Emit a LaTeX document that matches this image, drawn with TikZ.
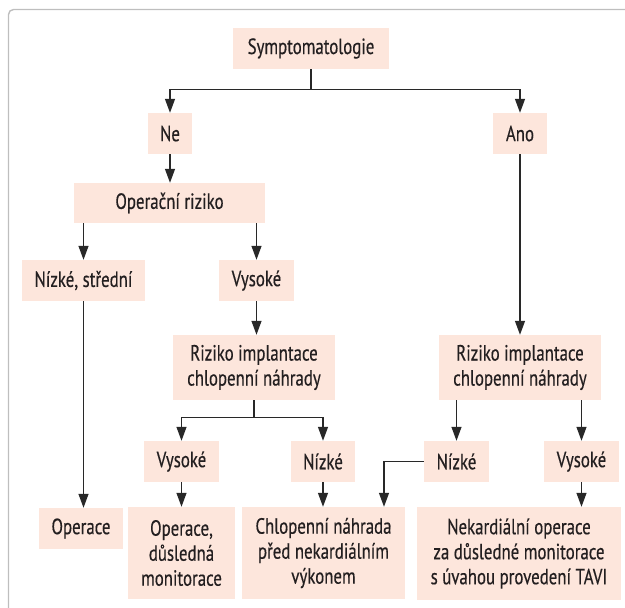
\documentclass[tikz,border=0pt]{standalone}
\usepackage{fontspec}
\setmainfont{PT Sans}[FakeStretch=0.765, FakeBold=0.4]
\usetikzlibrary{arrows.meta}
\definecolor{boxfill}{RGB}{253,230,220}
\definecolor{ink}{RGB}{35,31,32}
\definecolor{linecol}{RGB}{40,40,40}
\definecolor{framecol}{RGB}{190,190,190}
\tikzset{
  box/.style={fill=boxfill, text=ink, inner sep=0pt, align=center,
    font=\fontsize{22}{25}\selectfont},
  conn/.style={draw=linecol, line width=1.3pt,
    -{Triangle[length=14pt,width=10pt]}},
}
\begin{document}
\begin{tikzpicture}[x=1pt,y=-1pt]
\useasboundingbox (0,0) rectangle (625,608);
\clip (0,0) rectangle (625,608);
% outer frame
\draw[framecol, line width=1.4pt, rounded corners=5pt] (8.5,640) -- (8.5,9.5) -- (660,9.5);

% boxes
\node[box, minimum width=156pt, minimum height=41pt] (sym)  at (311,48.5)   {Symptomatologie};
\node[box, minimum width=44pt,  minimum height=41pt] (ne)   at (170,133.5)  {Ne};
\node[box, minimum width=54pt,  minimum height=41pt] (ano)  at (520,133.5)  {Ano};
\node[box, minimum width=191pt, minimum height=40pt] (oprr) at (169.5,203)  {Operační riziko};
\node[box, minimum width=123pt, minimum height=41pt] (nizs) at (83.5,280.5) {Nízké, střední};
\node[box, minimum width=75pt,  minimum height=41pt] (vysa) at (256.5,280.5){Vysoké};
\node[box, minimum width=162pt, minimum height=65pt] (riza) at (254,367.5)  {Riziko implantace\\chlopenní náhrady};
\node[box, minimum width=162pt, minimum height=65pt] (rizb) at (520,367.5)  {Riziko implantace\\chlopenní náhrady};
\node[box, minimum width=75pt,  minimum height=41pt] (vysb) at (181.5,461.5){Vysoké};
\node[box, minimum width=64pt,  minimum height=41pt] (nizb) at (323,461.5)  {Nízké};
\node[box, minimum width=65pt,  minimum height=41pt] (nizc) at (456.5,461.5){Nízké};
\node[box, minimum width=75pt,  minimum height=41pt] (vysc) at (581.5,461.5){Vysoké};
\node[box, minimum width=84pt,  minimum height=41pt] (op)   at (81,528.5)   {Operace};
\node[box, minimum width=107pt, minimum height=92pt] (opd)  at (181.5,553)  {Operace,\\důsledná\\monitorace};
\node[box, minimum width=163pt, minimum height=92pt] (chl)  at (323.5,553)  {Chlopenní náhrada\\před nekardiálním\\výkonem};
\node[box, minimum width=204pt, minimum height=93pt] (nek)  at (519,553.5)  {Nekardiální operace\\za důsledné monitorace\\s úvahou provedení TAVI};

% connectors
\draw[conn] (sym.south) -- ++(0,20.5) -| (ne.north);
\draw[conn] (sym.south) -- ++(0,20.5) -| (ano.north);
\draw[conn] (ne.south) -- (ne.south |- oprr.north);
\draw[conn] (oprr.south -| nizs.north) -- (nizs.north);
\draw[conn] (oprr.south -| vysa.north) -- (vysa.north);
\draw[conn] (nizs.south) -- (nizs.south |- op.north);
\draw[conn] (vysa.south) -- (vysa.south |- riza.north);
\draw[conn] (riza.south) -- ++(0,17) -| (vysb.north);
\draw[conn] (riza.south) -- ++(0,17) -| (nizb.north);
\draw[conn] (vysb.south) -- (opd.north);
\draw[conn] (nizb.south) -- (nizb.south |- chl.north);
\coordinate (chlin) at ([xshift=60.5pt]chl.north);
\draw[conn] (nizc.west) -| (chlin);
\draw[conn] (ano.south) -- (rizb.north);
\draw[conn] (rizb.south -| nizc.north) -- (nizc.north);
\draw[conn] (rizb.south -| vysc.north) -- (vysc.north);
\draw[conn] (vysc.south) -- (vysc.south |- nek.north);
\end{tikzpicture}
\end{document}
